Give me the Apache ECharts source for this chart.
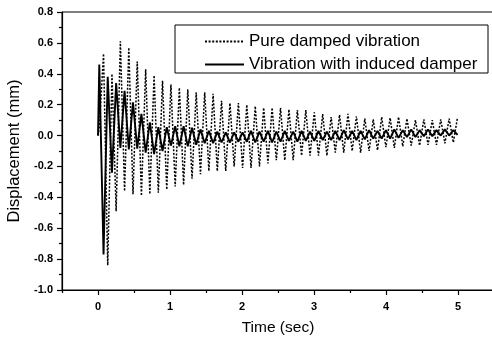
<!DOCTYPE html>
<html><head><meta charset="utf-8">
<script src="https://cdn.jsdelivr.net/npm/echarts@6/dist/echarts.min.js"></script>
<style>html,body{margin:0;padding:0;background:#fff}#c{width:492px;height:338px}</style>
</head><body><div id="c"></div>
<script>
// Time (sec) of each half-cycle extreme (peak / trough)
const time = [0, 0.018, 0.077, 0.135, 0.194, 0.252, 0.311, 0.369, 0.428, 0.486, 0.545,
  0.603, 0.662, 0.720, 0.779, 0.838, 0.896, 0.955, 1.013, 1.072, 1.130,
  1.189, 1.247, 1.306, 1.364, 1.423, 1.482, 1.540, 1.599, 1.657, 1.716,
  1.774, 1.833, 1.891, 1.950, 2.008, 2.067, 2.125, 2.184, 2.243, 2.301,
  2.360, 2.418, 2.477, 2.535, 2.594, 2.652, 2.711, 2.769, 2.828, 2.886,
  2.945, 3.004, 3.062, 3.121, 3.179, 3.238, 3.296, 3.355, 3.413, 3.472,
  3.530, 3.589, 3.647, 3.706, 3.765, 3.823, 3.882, 3.940, 3.999, 4.057,
  4.116, 4.174, 4.233, 4.291, 4.350, 4.409, 4.467, 4.526, 4.584, 4.643,
  4.701, 4.760, 4.818, 4.877, 4.935, 4.994];
// Displacement (mm), pure damped vibration
const pureDamped = [0, 0.05, 0.53, -0.84, 0.40, -0.49, 0.61, -0.36, 0.57, -0.38, 0.48,
  -0.39, 0.43, -0.38, 0.39, -0.37, 0.355, -0.35, 0.33, -0.33, 0.31,
  -0.32, 0.30, -0.28, 0.28, -0.25, 0.28, -0.23, 0.27, -0.23, 0.225,
  -0.23, 0.21, -0.20, 0.21, -0.21, 0.20, -0.21, 0.19, -0.20, 0.18,
  -0.18, 0.18, -0.16, 0.18, -0.16, 0.17, -0.16, 0.165, -0.13, 0.165,
  -0.13, 0.15, -0.13, 0.14, -0.13, 0.12, -0.11, 0.135, -0.11, 0.14,
  -0.10, 0.125, -0.11, 0.11, -0.10, 0.105, -0.095, 0.12, -0.075, 0.115,
  -0.08, 0.12, -0.07, 0.11, -0.065, 0.10, -0.065, 0.105, -0.06, 0.10,
  -0.06, 0.105, -0.05, 0.11, -0.045, 0.12];
// Displacement (mm), vibration with induced damper
const withDamper = [0, 0.46, -0.77, 0.38, -0.24, 0.34, -0.08, 0.29, -0.09, 0.215, -0.085,
  0.14, -0.11, 0.086, -0.12, 0.054, -0.10, 0.054, -0.065, 0.06, -0.07,
  0.06, -0.07, 0.05, -0.06, 0.04, -0.05, 0.03, -0.05, 0.025, -0.045,
  0.02, -0.045, 0.02, -0.04, 0.02, -0.04, 0.03, -0.045, 0.025, -0.04,
  0.03, -0.045, 0.025, -0.04, 0.03, -0.035, 0.025, -0.04, 0.03, -0.035,
  0.025, -0.035, 0.03, -0.03, 0.025, -0.03, 0.03, -0.03, 0.035, -0.025,
  0.03, -0.03, 0.03, -0.025, 0.035, -0.02, 0.03, -0.02, 0.035, -0.02,
  0.04, -0.015, 0.035, -0.01, 0.04, -0.01, 0.035, -0.005, 0.04, -0.005,
  0.035, 0.0, 0.04, 0.0, 0.035, 0.005];
const seriesNames = ['Pure damped vibration', 'Vibration with induced damper'];
const xTickValues = [0, 1, 2, 3, 4, 5];
const xMinorTickValues = [-0.5, 0.5, 1.5, 2.5, 3.5, 4.5, 5.5];

const font = '"Liberation Sans", Arial, Helvetica, sans-serif';
const chart = echarts.init(document.getElementById('c'));
const tickLabel = {color: '#000', fontFamily: font, fontSize: 11, fontWeight: 'bold'};
chart.setOption({
  animation: false,
  backgroundColor: '#fff',
  grid: {left: 62, top: 12, width: 432, height: 278, show: true, borderColor: '#000', borderWidth: 1,
    containLabel: false, outerBoundsMode: 'none'},
  graphic: [{
    type: 'rect', z: 3,
    shape: {x: 175, y: 25, width: 313, height: 48},
    style: {fill: '#fff', stroke: '#000', lineWidth: 1}
  }],
  legend: {
    z: 5, orient: 'vertical', left: 204, top: 33, padding: 0,
    itemWidth: 39, itemHeight: 14, itemGap: 6,
    data: seriesNames,
    itemStyle: {opacity: 0},
    textStyle: {color: '#000', fontFamily: font, fontSize: 17}
  },
  xAxis: [{
    type: 'value', min: -0.5, max: 5.5,
    name: 'Time (sec)', nameLocation: 'middle', nameGap: 30,
    nameTextStyle: {color: '#000', fontFamily: font, fontSize: 15.5},
    axisLine: {onZero: false, lineStyle: {color: '#000', width: 1.2}},
    axisTick: {customValues: xTickValues, length: 5, lineStyle: {color: '#000', width: 1.2}},
    axisLabel: Object.assign({customValues: xTickValues, margin: 11}, tickLabel),
    splitLine: {show: false}
  }, {
    type: 'value', min: -0.5, max: 5.5, position: 'bottom',
    axisLine: {show: false, onZero: false},
    axisTick: {customValues: xMinorTickValues, length: 3, lineStyle: {color: '#000', width: 1.2}},
    axisLabel: {show: false},
    splitLine: {show: false}
  }],
  yAxis: {
    type: 'value', min: -1.0, max: 0.8, interval: 0.2,
    name: 'Displacement (mm)', nameLocation: 'middle', nameGap: 32, nameRotate: 90,
    nameTextStyle: {color: '#000', fontFamily: font, fontSize: 16.5},
    axisLine: {onZero: false, lineStyle: {color: '#000', width: 1.2}},
    axisTick: {length: 5, lineStyle: {color: '#000', width: 1.2}},
    minorTick: {show: true, splitNumber: 2, length: 3, lineStyle: {color: '#000', width: 1.2}},
    axisLabel: Object.assign({margin: 9, formatter: v => v.toFixed(1)}, tickLabel),
    splitLine: {show: false}
  },
  series: [{
    name: seriesNames[0], type: 'line', symbol: 'none', z: 2,
    data: time.map((t, i) => [t, pureDamped[i]]),
    lineStyle: {color: '#000', width: 1.5, type: [2, 1.6]},
    itemStyle: {color: '#000'}
  }, {
    name: seriesNames[1], type: 'line', symbol: 'none', z: 3,
    data: time.map((t, i) => [t, withDamper[i]]),
    lineStyle: {color: '#000', width: 1.9, type: 'solid'},
    itemStyle: {color: '#000'}
  }]
});
</script></body></html>
